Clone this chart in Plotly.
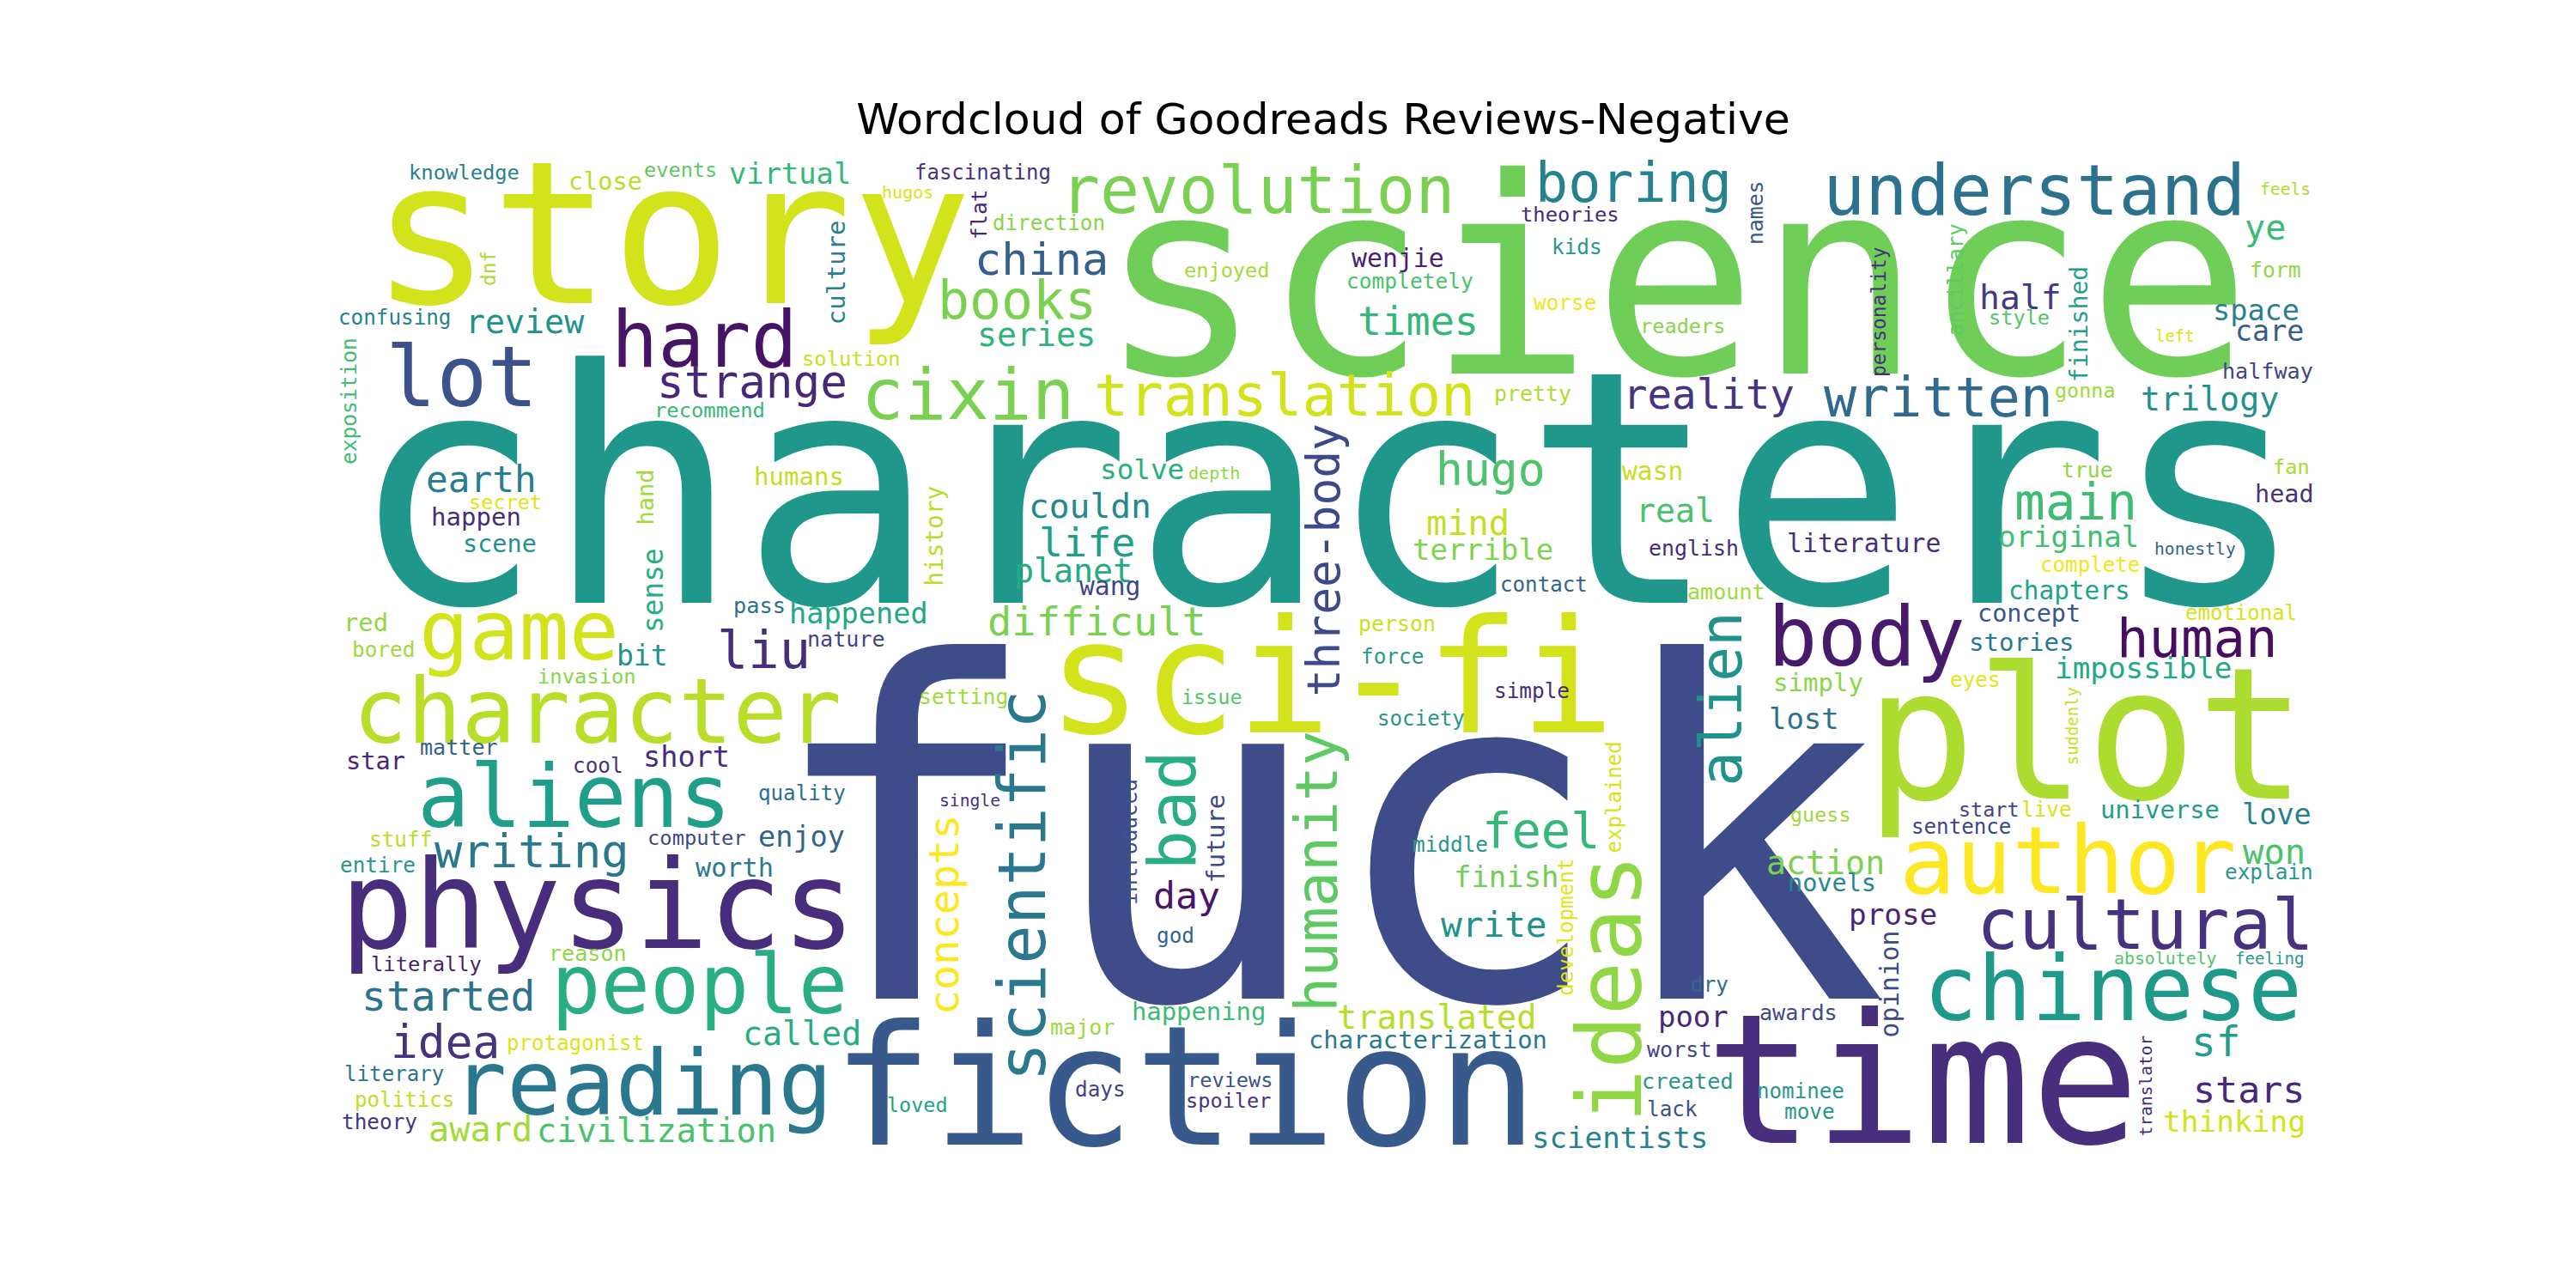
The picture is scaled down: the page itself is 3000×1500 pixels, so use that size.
import plotly.graph_objects as go

# word cloud; positions are in the 1600x800 picture frame
# horizontal words: x = centre, y = baseline
words = ["characters", "science", "fuck", "story", "fiction", "time", "plot", "sci-fi", "physics", "author",
         "character", "chinese", "reading", "aliens", "lot", "game", "people", "body", "hard", "cixin",
         "understand", "cultural", "revolution", "translation", "boring", "written", "human", "books", "liu", "main",
         "feel", "writing", "hugo", "idea", "strange", "china", "started", "sf", "reality", "difficult",
         "times", "life", "stars", "day", "earth", "write", "won", "award", "mind", "ye",
         "half", "couldn", "translated", "civilization", "review", "series", "planet", "real", "trilogy", "action",
         "called", "thinking", "impossible", "prose", "terrible", "original", "scientists", "finish", "lost", "poor",
         "virtual", "space", "care", "happened", "short", "enjoy", "love", "bit", "solve", "worth",
         "wenjie", "literature", "wasn", "wang", "chapters", "humans", "happen", "stories", "simply", "red",
         "universe", "happening", "characterization", "star", "close", "scene", "head", "concept", "novels", "pass",
         "created", "halfway", "nature", "matter", "amount", "reason", "major", "awards", "worst", "pretty",
         "person", "english", "form", "true", "setting", "completely", "kids", "worse", "bored", "cool",
         "force", "simple", "eyes", "live", "stuff", "entire", "theory", "middle", "god", "days",
         "explain", "dry", "lack", "move", "confusing", "direction", "contact", "society", "complete", "sentence",
         "protagonist", "literary", "politics", "nominee", "quality", "fascinating", "emotional", "knowledge", "solution", "recommend",
         "theories", "invasion", "computer", "literally", "events", "enjoyed", "style", "readers", "fan", "secret",
         "reviews", "spoiler", "gonna", "issue", "guess", "start", "loved", "depth", "hugos", "absolutely",
         "feels", "honestly", "single", "feeling", "left"]

sizes = [202, 170, 290, 124, 104, 112, 114, 97.5, 76, 58,
         56, 55.8, 56, 54, 52.5, 51.6, 51, 50.9, 48, 44,
         43.6, 43.5, 40.7, 35.8, 33.8, 33.8, 33.2, 32.8, 32.2, 31.7,
         30.5, 28.7, 28.3, 28.2, 28.1, 27.7, 25.6, 25.4, 25.3, 25.1,
         25, 24.9, 23.1, 23, 22.8, 21.9, 21.6, 21.5, 21.5, 21.4,
         21.2, 21.1, 20.6, 20.6, 20.4, 20.4, 20.4, 20.4, 20.4, 20.4,
         20.4, 18.4, 18.3, 18.3, 18.2, 18.2, 18.2, 18.1, 18.1, 18.1,
         18, 17.9, 17.8, 17.9, 17.9, 17.9, 17.9, 17.6, 17.4, 16.1,
         15.9, 15.9, 15.8, 15.8, 15.7, 15.5, 15.5, 15.5, 15.5, 15.4,
         15.4, 15.4, 15.4, 15.3, 15.2, 15.2, 15.2, 15.2, 15.2, 13.5,
         13.5, 13.4, 13.4, 13.4, 13.4, 13.4, 13.4, 13.4, 13.4, 13.3,
         13.3, 13.3, 13.2, 13.2, 13.2, 13.1, 13, 13, 13, 13,
         13, 13, 13, 13, 13, 13, 13, 13, 13, 13,
         13, 13, 13, 13, 12.95, 12.9, 12.9, 12.9, 12.9, 12.9,
         12.9, 12.9, 12.9, 12.9, 12.9, 12.8, 12.8, 12.7, 12.7, 12.7,
         12.7, 12.7, 12.7, 12.7, 12.6, 12.6, 12.6, 12.6, 12.6, 12.6,
         12.6, 12.6, 12.5, 12.5, 12.5, 12.5, 12.5, 10.7, 10.7, 10.6,
         10.5, 10.5, 10.5, 10.2, 10.1]

pos_x = [820.5, 1035.9, 819, 413, 731.5, 1190, 1291.4, 822.5, 367.3, 1280.4,
         366.6, 1308, 395, 352.5, 282.6, 318.1, 430, 1155, 433.2, 597,
         1259, 1328.2, 777, 793.7, 1010.6, 1199.6, 1360, 627.5, 470, 1285,
         952.8, 325.9, 921.8, 272.3, 463, 642.5, 274.3, 1372, 1056.8, 676.8,
         876.5, 671, 1392.4, 733, 294.9, 923.7, 1408.4, 294.2, 907.6, 1402.6,
         1250.7, 672.9, 888.2, 403.4, 322, 639.4, 662.5, 1036.1, 1368, 1129.8,
         494, 1383.5, 1327, 1171.2, 916.6, 1280.4, 1001.6, 931.5, 1116.2, 1047.7,
         486.3, 1397.3, 1405.3, 528.9, 422.3, 493.4, 1409.8, 394.5, 705.2, 452,
         864.2, 1153.1, 1021.9, 685.2, 1281, 492, 291.6, 1251.3, 1125.2, 223.1,
         1337.2, 740.2, 882.4, 229, 371.8, 305.9, 1414.6, 1255.8, 1133.7, 467.5,
         1043.9, 1404.4, 521.1, 280.7, 1067.8, 360.8, 668.4, 1113, 1038.7, 947.6,
         863.6, 1047.8, 1408.9, 1292.4, 594, 871.3, 975.4, 967.6, 234.1, 367.3,
         860.4, 947, 1222.9, 1266.9, 244.5, 230.3, 231.5, 896.5, 725.9, 679.4,
         1405.3, 1057.4, 1034.2, 1119.5, 240.6, 647, 954.7, 878.5, 1294, 1213.8,
         353, 240.6, 247, 1114.3, 494, 606, 1387.5, 283.9, 524.3, 436.4,
         970.8, 360.2, 428.6, 260.6, 418.4, 757.6, 1249.9, 1041.3, 1418.7, 309.8,
         760.2, 758.9, 1290.7, 748.5, 1126.6, 1231.3, 565.7, 749.8, 559.3, 1340.9,
         1415, 1359.3, 598.3, 1405.8, 1346.6]

pos_y = [370, 227.5, 616, 184, 706.7, 705.8, 491.6, 450.7, 584.9, 550.3,
         457, 629.4, 688, 509.5, 248, 405.4, 624.9, 408.9, 223.1, 256,
         128.9, 584.9, 128, 254.2, 120.9, 254.2, 403.6, 193.7, 410.7, 318.3,
         521.8, 534.3, 297, 652.5, 242.6, 166.2, 623.1, 651.8, 249.7, 390.3,
         203.5, 341.4, 680.4, 560, 301.4, 577.8, 532.5, 704.9, 328, 144.5,
         187.5, 317.4, 634.7, 704.9, 202.6, 210.6, 357.4, 320, 250.6, 538.7,
         644.5, 698.8, 416.9, 569.8, 343.1, 335.1, 708.5, 546.7, 448.9, 633.8,
         110.2, 194.5, 207.7, 383.1, 472, 521.8, 508, 409, 293.3, 540.5,
         161.7, 338.7, 294.2, 365.4, 368, 296.9, 322, 400, 424.9, 387.6,
         504, 629.4, 647.1, 473.8, 113.7, 338.7, 307.8, 382.3, 549.4, 376.9,
         672, 231, 397.4, 464.9, 368, 592.9, 638.3, 629.4, 652.5, 245,
         388, 341, 168, 292.4, 433, 175, 153.7, 188.4, 403.6, 475.6,
         408, 429.4, 422.3, 503.1, 521.8, 537.8, 696.9, 524.5, 581.4, 676.5,
         542, 611.6, 688.9, 690.7, 197.3, 138.6, 363.6, 446.5, 351.1, 513.8,
         648, 667.6, 683.6, 678.3, 493, 107.5, 381.2, 107.5, 223.1, 255.1,
         133.3, 420.5, 520.9, 599.1, 105.7, 168, 197.3, 202.6, 290.4, 312,
         671.1, 684, 242.6, 432.9, 506, 503.1, 686.3, 293.3, 119, 594.7,
         117, 340.5, 496.9, 594.7, 207.7]

colors = ["#1f988b", "#6ece58", "#3e4c8a", "#d2e21b", "#38598c", "#472f7d", "#addc30", "#d2e21b", "#472d7b", "#fde725",
          "#b8de29", "#1f9a8a", "#2a788e", "#1f9e89", "#3b528b", "#d2e21b", "#29af7f", "#481a6c", "#471365", "#7ad151",
          "#2c728e", "#46327e", "#7ad151", "#d2e21b", "#26828e", "#306a8e", "#470d60", "#7ad151", "#472d7b", "#3fbc73",
          "#35b779", "#2a788e", "#4ec36b", "#46327e", "#482878", "#355f8d", "#2c728e", "#1f9e89", "#463480", "#7ad151",
          "#35b779", "#1f9e89", "#482878", "#481567", "#287d8e", "#21918c", "#4ac16d", "#a2da37", "#c2df23", "#3bbb75",
          "#443983", "#23898e", "#b5de2b", "#4ac16d", "#21918c", "#2fb47c", "#25ab82", "#4ac16d", "#22908d", "#7ad151",
          "#27ad81", "#d2e21b", "#22a884", "#482576", "#7fd34e", "#42be71", "#26828e", "#6ece58", "#2d708e", "#482878",
          "#35b779", "#2a7f8e", "#375b8d", "#22a884", "#472c7a", "#33638d", "#277f8e", "#21918c", "#29af7f", "#2a788e",
          "#482173", "#46307e", "#c5e021", "#414487", "#20a386", "#c0df25", "#472c7a", "#2a788e", "#8bd646", "#8fd744",
          "#1f9e89", "#3bbb75", "#2a788e", "#482878", "#b8de29", "#21918c", "#46337e", "#39568c", "#23898e", "#2c728e",
          "#2a968b", "#414487", "#414487", "#33638d", "#9fda3a", "#8fd744", "#9dd93b", "#3e4989", "#414487", "#addc30",
          "#c8e020", "#472c7a", "#8fd744", "#8ed645", "#a0da39", "#4ac16d", "#2a968b", "#f1e51d", "#9fda3a", "#46337e",
          "#2a968b", "#472c7a", "#e5e419", "#d8e219", "#b8de29", "#2a968b", "#46337e", "#2a968b", "#33638d", "#414487",
          "#2a968b", "#31688e", "#3b528b", "#2a968b", "#26828e", "#86d549", "#33638d", "#2a968b", "#f1e51d", "#414487",
          "#dde318", "#2c728e", "#bddf26", "#2a968b", "#2d708e", "#46337e", "#d8e219", "#26828e", "#c8e020", "#35b779",
          "#482878", "#86d549", "#3e4989", "#481f70", "#5ec962", "#a5db36", "#54c568", "#86d549", "#a8db34", "#e2e418",
          "#3b528b", "#46337e", "#9dd93b", "#54c568", "#a0da39", "#414487", "#20a386", "#8fd744", "#dde318", "#52c569",
          "#addc30", "#33638d", "#46337e", "#2a968b", "#dfe318"]

# vertical words (read bottom to top): x = baseline, y = centre
v_words = ["flat", "dnf", "culture", "exposition", "hand", "three-body", "names", "personality", "ancillary", "finished",
           "sense", "history", "scientific", "bad", "humanity", "introduced", "future", "explained", "alien", "suddenly",
           "development", "ideas", "opinion", "translator", "concepts"]
v_sizes = [12.9, 12.1, 15.4, 13.1, 14.4, 28.2, 13.2, 12.2, 12.9, 15,
           17.5, 14.8, 40.4, 41.2, 36.3, 13, 15.3, 12.8, 36, 10.1,
           12.9, 55.4, 15.8, 10.4, 25.9]
v_pos_x = [609, 303.3, 520.5, 216.7, 401.5, 827.5, 1090.4, 1166.5, 1215.5, 1292.1,
           408, 581.7, 645, 738.2, 826, 702, 756.3, 1003, 1077.4, 1286,
           973, 1015, 1175, 1332.4, 590.7]
v_pos_y = [129.3, 162.2, 164.9, 244.9, 304.5, 343.5, 127.5, 189.7, 169.3, 196.9,
           362.3, 328.9, 545.8, 498.7, 536.9, 518.3, 516.5, 490.7, 429.8, 446.7,
           571.6, 609.8, 606.7, 670.2, 564]
v_colors = ["#482878", "#addc30", "#27808e", "#40bd72", "#9fda3a", "#3e4989", "#39568c", "#472f7d", "#5ec962", "#1fa088",
            "#29af7f", "#b5de2b", "#2a788e", "#29af7f", "#5ec962", "#3b528b", "#3e4989", "#d8e219", "#20928c", "#c8e020",
            "#e2e418", "#8fd744", "#3e4989", "#482878", "#fde725"]

W, H = 3000, 1500
px = W / 1600  # screen pixels per picture unit
MID = 0.346    # text box centre above the baseline, in em

anns = []
for w, s, x, y, c in zip(words, sizes, pos_x, pos_y, colors):
    anns.append(dict(text=w, x=x, y=y - MID * s, xref="x", yref="y", showarrow=False,
                     xanchor="center", yanchor="middle", borderpad=0,
                     font=dict(family="DejaVu Sans Mono", size=s * px, color=c)))
for w, s, x, y, c in zip(v_words, v_sizes, v_pos_x, v_pos_y, v_colors):
    anns.append(dict(text=w, x=x - MID * s, y=y, xref="x", yref="y", showarrow=False,
                     xanchor="center", yanchor="middle", borderpad=0, textangle=-90,
                     font=dict(family="DejaVu Sans Mono", size=s * px, color=c)))

fig = go.Figure()
fig.add_trace(go.Scatter(x=[0, 1600], y=[0, 800], mode="markers", marker=dict(opacity=0),
                         hoverinfo="skip", showlegend=False))
fig.update_layout(
    width=W, height=H,
    margin=dict(l=0, r=0, t=0, b=0),
    paper_bgcolor="white", plot_bgcolor="white",
    title=dict(text="Wordcloud of Goodreads Reviews-Negative", x=0.511, xanchor="center",
               y=0.913, yanchor="middle", font=dict(family="DejaVu Sans", size=50.5, color="black")),
    xaxis=dict(range=[0, 1600], visible=False, fixedrange=True),
    yaxis=dict(range=[800, 0], visible=False, fixedrange=True),
    annotations=anns,
    showlegend=False,
)
fig.write_html("out.html")
